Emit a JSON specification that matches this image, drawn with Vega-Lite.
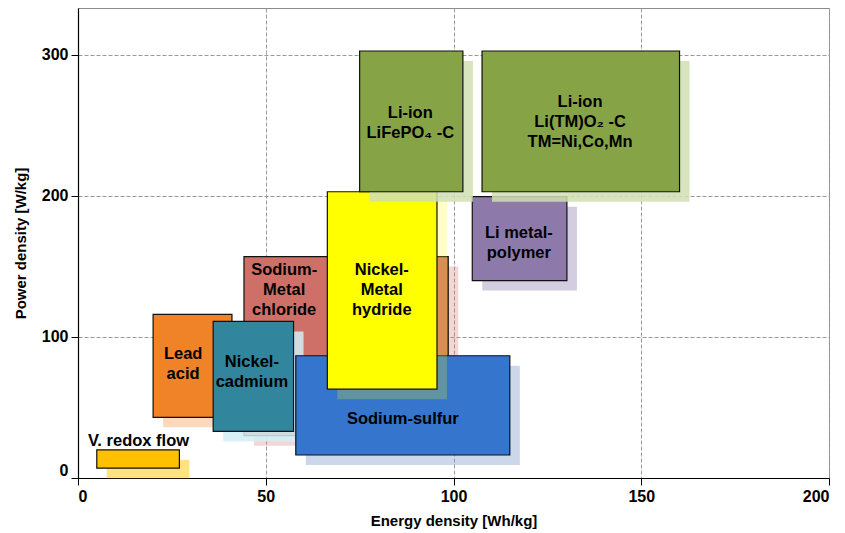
{
  "$schema": "https://vega.github.io/schema/vega-lite/v6.json",
  "width": 751,
  "height": 470,
  "autosize": "none",
  "padding": {"left": 78, "top": 8, "right": 16, "bottom": 55},
  "background": "white",
  "config": {
    "font": "Liberation Sans",
    "view": {"stroke": "#8c8c8c", "strokeWidth": 1},
    "axis": {
      "domainColor": "#000000",
      "domainWidth": 1.2,
      "tickColor": "#000000",
      "tickSize": 7,
      "tickWidth": 1,
      "labelFontSize": 16,
      "labelFontWeight": "bold",
      "labelColor": "#000000",
      "labelPadding": 3,
      "titleFontSize": 15,
      "titleFontWeight": "bold",
      "titleColor": "#000000",
      "gridColor": "#9a9a9a",
      "gridDash": [4, 2],
      "gridWidth": 1
    }
  },
  "data": {
    "values": [
      {"tech": "V. redox flow", "e0": 5, "e1": 27, "p0": 7, "p1": 20, "label": "V. redox flow", "lx": 16.1, "ly": 26.5},
      {"tech": "Lead acid", "e0": 20, "e1": 41, "p0": 43, "p1": 116, "label": "Lead\nacid", "lx": 28, "ly": 87.9},
      {"tech": "Nickel-cadmium", "e0": 36, "e1": 57.4, "p0": 33, "p1": 111, "label": "Nickel-\ncadmium", "lx": 46.3, "ly": 82.3},
      {"tech": "Sodium-Metal chloride", "e0": 44.2, "e1": 98.6, "p0": 30, "p1": 157, "label": "Sodium-\nMetal\nchloride", "lx": 54.9, "ly": 147.5},
      {"tech": "Sodium-sulfur", "e0": 58, "e1": 115, "p0": 16.3, "p1": 86.7, "label": "Sodium-sulfur", "lx": 86.5, "ly": 42},
      {"tech": "Nickel-Metal hydride", "e0": 66.4, "e1": 95.6, "p0": 63, "p1": 203, "label": "Nickel-\nMetal\nhydride", "lx": 80.9, "ly": 147.5},
      {"tech": "Li metal-polymer", "e0": 105, "e1": 130.2, "p0": 140, "p1": 199.5, "label": "Li metal-\npolymer", "lx": 117.4, "ly": 174},
      {"tech": "Li-ion LiFePO4", "e0": 75, "e1": 102.5, "p0": 203, "p1": 302.8, "label": "Li-ion\nLiFePO₄ -C", "lx": 88.5, "ly": 259},
      {"tech": "Li-ion TM", "e0": 107.6, "e1": 160.2, "p0": 203, "p1": 302.8, "label": "Li-ion\nLi(TM)O₂ -C\nTM=Ni,Co,Mn", "lx": 133.7, "ly": 266.9}
    ]
  },
  "encoding": {
    "x": {
      "field": "e0",
      "type": "quantitative",
      "title": "Energy density [Wh/kg]",
      "scale": {"domain": [0, 200], "nice": false},
      "axis": {"values": [0, 50, 100, 150, 200], "titlePadding": 9}
    },
    "x2": {"field": "e1"},
    "y": {
      "field": "p0",
      "type": "quantitative",
      "title": "Power density [W/kg]",
      "scale": {"domain": [0, 333.3], "nice": false},
      "axis": {"values": [0, 100, 200, 300], "labelFlush": true, "labelFlushOffset": 0, "titlePadding": 13}
    },
    "y2": {"field": "p1"}
  },
  "resolve": {"scale": {"fill": "independent"}},
  "layer": [
    {
      "transform": [{"filter": {"field": "tech", "oneOf": ["V. redox flow", "Lead acid", "Sodium-Metal chloride"]}}],
      "mark": {"type": "rect", "xOffset": 10, "x2Offset": 10, "yOffset": 10, "y2Offset": 10},
      "encoding": {"fill": {"field": "tech", "type": "nominal", "legend": null, "scale": {"domain": ["V. redox flow", "Lead acid", "Nickel-cadmium", "Sodium-Metal chloride", "Sodium-sulfur", "Nickel-Metal hydride", "Li metal-polymer", "Li-ion LiFePO4", "Li-ion TM"], "range": ["rgba(255,200,0,0.5)", "rgba(240,130,40,0.3)", "rgba(210,238,245,0.85)", "rgba(208,112,104,0.28)", "rgba(120,150,200,0.38)", "rgba(255,255,0,0.22)", "rgba(142,122,170,0.38)", "rgba(208,223,177,0.85)", "rgba(208,223,177,0.85)"]}}}
    },
    {
      "transform": [{"filter": {"field": "tech", "oneOf": ["V. redox flow", "Lead acid", "Sodium-Metal chloride"]}}],
      "mark": {"type": "rect", "stroke": "#111111", "strokeWidth": 1.2},
      "encoding": {"fill": {"field": "tech", "type": "nominal", "legend": null, "scale": {"domain": ["V. redox flow", "Lead acid", "Nickel-cadmium", "Sodium-Metal chloride", "Sodium-sulfur", "Nickel-Metal hydride", "Li metal-polymer", "Li-ion LiFePO4", "Li-ion TM"], "range": ["#FFC000", "#F08228", "#31859C", "#CF7068", "#3575CD", "#FFFF00", "#8E7AAA", "#86A446", "#86A446"]}}}
    },
    {
      "transform": [{"filter": {"field": "tech", "oneOf": ["Nickel-cadmium", "Sodium-sulfur"]}}],
      "mark": {"type": "rect", "xOffset": 10, "x2Offset": 10, "yOffset": 10, "y2Offset": 10},
      "encoding": {"fill": {"field": "tech", "type": "nominal", "legend": null, "scale": {"domain": ["V. redox flow", "Lead acid", "Nickel-cadmium", "Sodium-Metal chloride", "Sodium-sulfur", "Nickel-Metal hydride", "Li metal-polymer", "Li-ion LiFePO4", "Li-ion TM"], "range": ["rgba(255,200,0,0.5)", "rgba(240,130,40,0.3)", "rgba(210,238,245,0.85)", "rgba(208,112,104,0.28)", "rgba(120,150,200,0.38)", "rgba(255,255,0,0.22)", "rgba(142,122,170,0.38)", "rgba(208,223,177,0.85)", "rgba(208,223,177,0.85)"]}}}
    },
    {
      "transform": [{"filter": {"field": "tech", "oneOf": ["Nickel-cadmium", "Sodium-sulfur"]}}],
      "mark": {"type": "rect", "stroke": "#111111", "strokeWidth": 1.2},
      "encoding": {"fill": {"field": "tech", "type": "nominal", "legend": null, "scale": {"domain": ["V. redox flow", "Lead acid", "Nickel-cadmium", "Sodium-Metal chloride", "Sodium-sulfur", "Nickel-Metal hydride", "Li metal-polymer", "Li-ion LiFePO4", "Li-ion TM"], "range": ["#FFC000", "#F08228", "#31859C", "#CF7068", "#3575CD", "#FFFF00", "#8E7AAA", "#86A446", "#86A446"]}}}
    },
    {
      "transform": [{"filter": {"field": "tech", "oneOf": ["Nickel-Metal hydride", "Li metal-polymer"]}}],
      "mark": {"type": "rect", "xOffset": 10, "x2Offset": 10, "yOffset": 10, "y2Offset": 10},
      "encoding": {"fill": {"field": "tech", "type": "nominal", "legend": null, "scale": {"domain": ["V. redox flow", "Lead acid", "Nickel-cadmium", "Sodium-Metal chloride", "Sodium-sulfur", "Nickel-Metal hydride", "Li metal-polymer", "Li-ion LiFePO4", "Li-ion TM"], "range": ["rgba(255,200,0,0.5)", "rgba(240,130,40,0.3)", "rgba(210,238,245,0.85)", "rgba(208,112,104,0.28)", "rgba(120,150,200,0.38)", "rgba(255,255,0,0.22)", "rgba(142,122,170,0.38)", "rgba(208,223,177,0.85)", "rgba(208,223,177,0.85)"]}}}
    },
    {
      "transform": [{"filter": {"field": "tech", "oneOf": ["Nickel-Metal hydride", "Li metal-polymer"]}}],
      "mark": {"type": "rect", "stroke": "#111111", "strokeWidth": 1.2},
      "encoding": {"fill": {"field": "tech", "type": "nominal", "legend": null, "scale": {"domain": ["V. redox flow", "Lead acid", "Nickel-cadmium", "Sodium-Metal chloride", "Sodium-sulfur", "Nickel-Metal hydride", "Li metal-polymer", "Li-ion LiFePO4", "Li-ion TM"], "range": ["#FFC000", "#F08228", "#31859C", "#CF7068", "#3575CD", "#FFFF00", "#8E7AAA", "#86A446", "#86A446"]}}}
    },
    {
      "transform": [{"filter": {"field": "tech", "oneOf": ["Li-ion LiFePO4", "Li-ion TM"]}}],
      "mark": {"type": "rect", "xOffset": 10, "x2Offset": 10, "yOffset": 10, "y2Offset": 10},
      "encoding": {"fill": {"field": "tech", "type": "nominal", "legend": null, "scale": {"domain": ["V. redox flow", "Lead acid", "Nickel-cadmium", "Sodium-Metal chloride", "Sodium-sulfur", "Nickel-Metal hydride", "Li metal-polymer", "Li-ion LiFePO4", "Li-ion TM"], "range": ["rgba(255,200,0,0.5)", "rgba(240,130,40,0.3)", "rgba(210,238,245,0.85)", "rgba(208,112,104,0.28)", "rgba(120,150,200,0.38)", "rgba(255,255,0,0.22)", "rgba(142,122,170,0.38)", "rgba(208,223,177,0.85)", "rgba(208,223,177,0.85)"]}}}
    },
    {
      "transform": [{"filter": {"field": "tech", "oneOf": ["Li-ion LiFePO4", "Li-ion TM"]}}],
      "mark": {"type": "rect", "stroke": "#111111", "strokeWidth": 1.2},
      "encoding": {"fill": {"field": "tech", "type": "nominal", "legend": null, "scale": {"domain": ["V. redox flow", "Lead acid", "Nickel-cadmium", "Sodium-Metal chloride", "Sodium-sulfur", "Nickel-Metal hydride", "Li metal-polymer", "Li-ion LiFePO4", "Li-ion TM"], "range": ["#FFC000", "#F08228", "#31859C", "#CF7068", "#3575CD", "#FFFF00", "#8E7AAA", "#86A446", "#86A446"]}}}
    },
    {
      "mark": {"type": "text", "fontSize": 16.5, "fontWeight": "bold", "color": "#000000", "align": "center", "baseline": "middle", "lineBreak": "\n", "lineHeight": 20},
      "encoding": {
        "x": {"field": "lx", "type": "quantitative", "title": "Energy density [Wh/kg]"},
        "y": {"field": "ly", "type": "quantitative", "title": "Power density [W/kg]"},
        "x2": null,
        "y2": null,
        "text": {"field": "label"}
      }
    }
  ]
}
